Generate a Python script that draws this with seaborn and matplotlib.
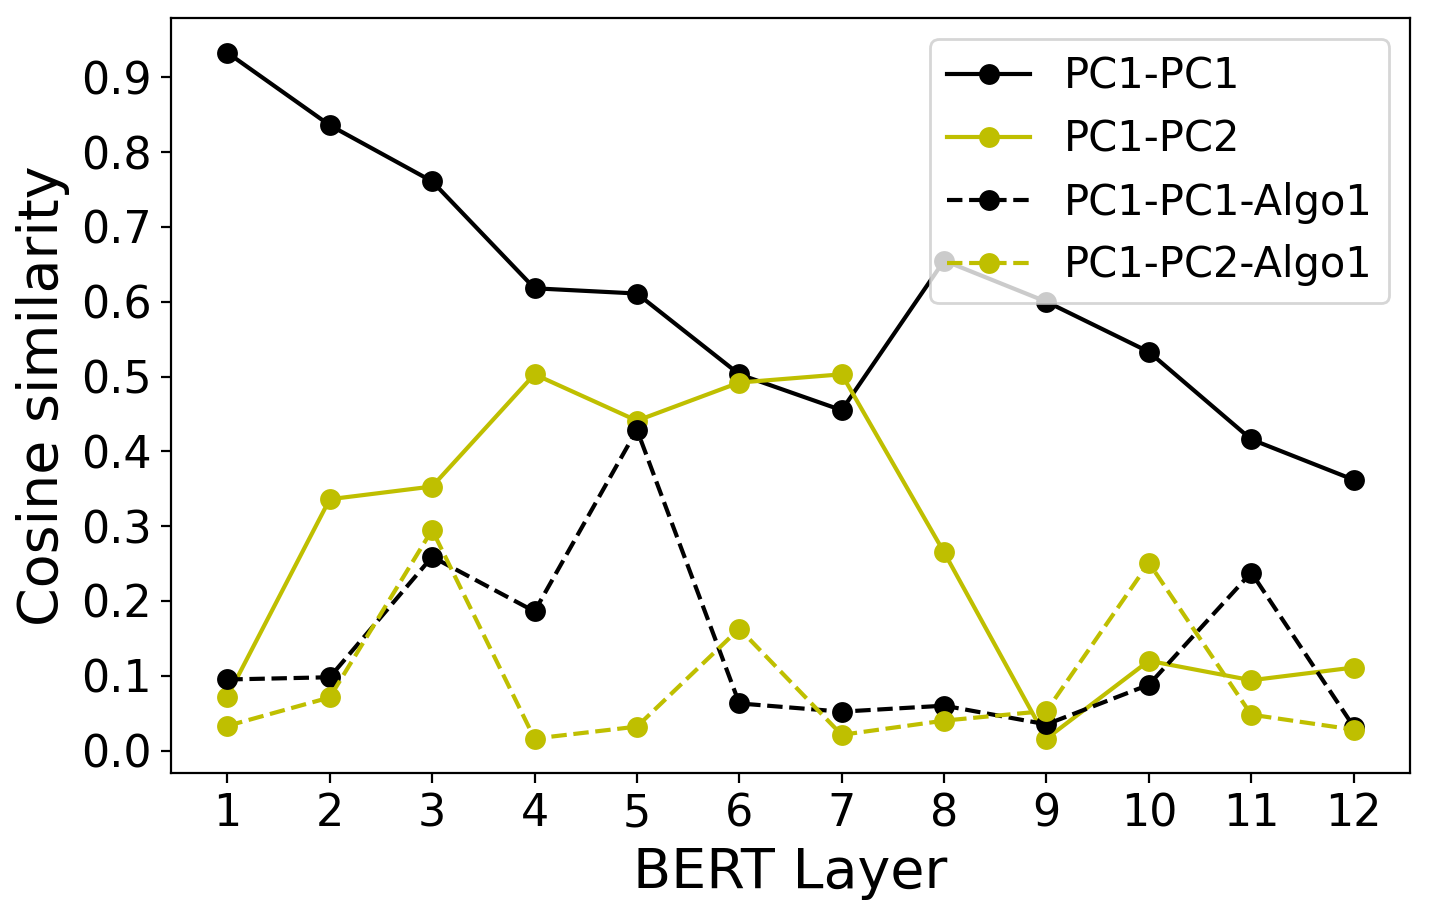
import seaborn as sns
import matplotlib.pyplot as plt
import numpy as np

# BERT layers 1..12
layers = list(range(1, 13))

pc1_pc1 = [0.933, 0.836, 0.761, 0.618, 0.611, 0.503, 0.455, 0.655, 0.600, 0.533, 0.416, 0.362]
pc1_pc2 = [0.072, 0.336, 0.353, 0.503, 0.441, 0.492, 0.503, 0.265, 0.016, 0.120, 0.094, 0.111]
pc1_pc1_algo1 = [0.095, 0.098, 0.259, 0.186, 0.429, 0.063, 0.052, 0.060, 0.035, 0.088, 0.238, 0.032]
pc1_pc2_algo1 = [0.033, 0.071, 0.295, 0.016, 0.032, 0.163, 0.021, 0.040, 0.053, 0.251, 0.048, 0.028]

fig, ax = plt.subplots(figsize=(7.15, 4.595), dpi=200)
fig.subplots_adjust(left=0.1196, right=0.986, top=0.980, bottom=0.159)

ms = 7.5
sns.lineplot(x=layers, y=pc1_pc1, color='k', marker='o', markersize=ms,
             markeredgewidth=0, label='PC1-PC1', ax=ax)
sns.lineplot(x=layers, y=pc1_pc2, color='y', marker='o', markersize=ms,
             markeredgewidth=0, label='PC1-PC2', ax=ax)
sns.lineplot(x=layers, y=pc1_pc1_algo1, color='k', marker='o', markersize=ms,
             markeredgewidth=0, linestyle='--', label='PC1-PC1-Algo1', ax=ax)
sns.lineplot(x=layers, y=pc1_pc2_algo1, color='y', marker='o', markersize=ms,
             markeredgewidth=0, linestyle='--', label='PC1-PC2-Algo1', ax=ax)

ax.set_xticks(layers)
ax.set_yticks(np.round(np.arange(0, 0.91, 0.1), 1))
ax.tick_params(labelsize=16)
ax.set_xlabel('BERT Layer', fontsize=20)
ax.set_ylabel('Cosine similarity', fontsize=20)
ax.legend(loc='upper right', fontsize=15)

plt.savefig('out.png', dpi=200)
